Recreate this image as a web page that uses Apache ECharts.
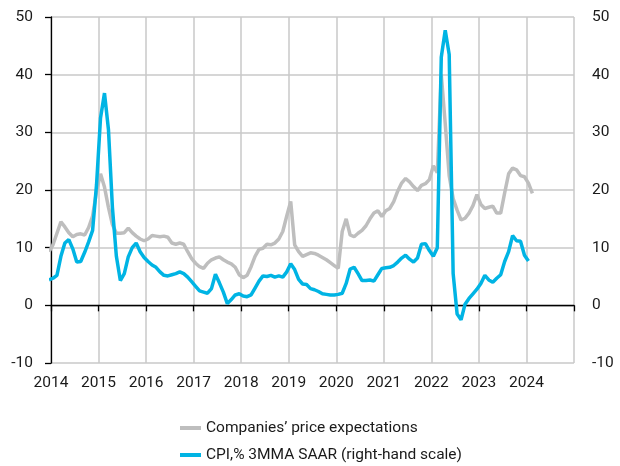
<!DOCTYPE html>
<html>
<head>
<meta charset="utf-8">
<script src="https://cdn.jsdelivr.net/npm/echarts@6/dist/echarts.min.js"></script>
<style>
html,body{margin:0;padding:0;background:#fff;}
#chart{width:620px;height:466px;}
</style>
</head>
<body>
<div id="chart"></div>
<script>
// Monthly data, first point = Dec 2013, plotted at mid-month
const startYear = 2013 + 11.5 / 12;

const yearLabels = ['2014','2015','2016','2017','2018','2019','2020','2021','2022','2023','2024'];
const yTicks = [-10, 0, 10, 20, 30, 40, 50];

const seriesNames = ['Companies’ price expectations', 'CPI,% 3MMA SAAR (right-hand scale)'];

// Companies' price expectations (left scale), Dec 2013 - Feb 2024
const priceExpectations = [
  9.3,
  10.5, 12.5, 14.5, 13.6, 12.6, 11.9, 12.3, 12.4, 12.2, 13.5, 15.5, 19.8,
  22.8, 20.5, 17.0, 14.0, 12.5, 12.5, 12.6, 13.4, 12.6, 12.0, 11.5, 11.2,
  11.5, 12.1, 12.0, 11.9, 12.0, 11.8, 10.8, 10.6, 10.8, 10.6, 9.3, 8.1,
  7.3, 6.7, 6.4, 7.3, 7.9, 8.2, 8.4, 7.9, 7.5, 7.2, 6.6, 5.3,
  4.8, 5.2, 6.7, 8.5, 9.7, 9.9, 10.6, 10.5, 10.8, 11.5, 12.8, 15.5,
  18.0, 10.5, 9.3, 8.5, 8.8, 9.1, 9.0, 8.7, 8.3, 7.9, 7.4, 6.9,
  6.4, 12.8, 15.0, 12.2, 11.9, 12.5, 13.0, 13.8, 15.0, 16.0, 16.4, 15.4,
  16.4, 16.8, 18.0, 19.8, 21.2, 22.0, 21.4, 20.6, 19.9, 20.8, 21.1, 21.8,
  24.2, 23.0, 40.0, 31.5, 22.5, 18.5, 16.5, 14.8, 15.1, 16.0, 17.3, 19.2,
  17.5, 16.8, 17.0, 17.2, 16.0, 16.0, 19.5, 22.8, 23.8, 23.5, 22.5, 22.3,
  21.2, 19.4
];

// CPI, % 3MMA SAAR (right-hand scale), Dec 2013 - Jan 2024
const cpiSaar = [
  4.4,
  4.7, 5.2, 8.5, 10.8, 11.4, 9.8, 7.5, 7.6, 9.2, 11.0, 13.0, 21.0,
  32.5, 36.8, 30.5, 17.0, 8.5, 4.3, 5.5, 8.4, 10.0, 10.8, 9.3, 8.3,
  7.6, 7.0, 6.6, 5.8, 5.2, 5.1, 5.3, 5.5, 5.8, 5.5, 4.9, 4.1,
  3.3, 2.5, 2.3, 2.1, 2.9, 5.4, 3.9, 2.3, 0.3, 1.0, 1.8, 2.0,
  1.6, 1.5, 1.8, 3.0, 4.2, 5.1, 5.0, 5.2, 4.9, 5.1, 4.9, 5.8,
  7.2, 6.2, 4.5, 3.7, 3.6, 2.9, 2.7, 2.4, 2.0, 1.9, 1.8, 1.8,
  1.9, 2.1, 3.8, 6.3, 6.6, 5.5, 4.3, 4.3, 4.4, 4.2, 5.3, 6.4,
  6.5, 6.6, 6.9, 7.5, 8.2, 8.7, 8.0, 7.5, 8.2, 10.6, 10.7, 9.5,
  8.5, 10.0, 43.0, 47.7, 43.5, 5.5, -1.5, -2.5, 0.2, 1.2, 2.0, 2.8,
  3.8, 5.2, 4.4, 4.0, 4.7, 5.3, 7.6, 9.3, 12.1, 11.2, 11.1, 8.7,
  7.7
];

const toPairs = arr => arr.map((v, k) => [startYear + k / 12, v]);

const FONT = 'Roboto';
const FS = 15.5;
const TXT = '#1a1a1a';
const GRID = '#c8c8c8';
const GREY = '#bebebe';
const BLUE = '#00b4e4';

const chart = echarts.init(document.getElementById('chart'), null, {renderer: 'canvas'});
const xBase = {
  type: 'value',
  min: Number(yearLabels[0]),
  max: Number(yearLabels[yearLabels.length - 1]) + 1,
  interval: 1
};
const yBase = {
  type: 'value',
  min: yTicks[0],
  max: yTicks[yTicks.length - 1],
  interval: yTicks[1] - yTicks[0]
};
const legendBase = {
  orient: 'horizontal',
  left: 180,
  icon: 'rect',
  itemWidth: 21,
  itemHeight: 4,
  padding: 0,
  textStyle: {fontFamily: FONT, fontSize: FS, color: TXT, lineHeight: 18}
};

chart.setOption({
  animation: false,
  backgroundColor: '#fff',
  grid: {left: 51, right: 46, top: 17, bottom: 103, containLabel: false},
  legend: [
    Object.assign({}, legendBase, {data: [seriesNames[0]], top: 419}),
    Object.assign({}, legendBase, {data: [seriesNames[1]], top: 446})
  ],
  xAxis: [
    Object.assign({}, xBase, {
      position: 'bottom',
      axisLine: {show: false, onZero: false},
      axisTick: {show: false},
      axisLabel: {
        margin: 12,
        fontFamily: FONT, fontSize: FS, color: TXT,
        formatter: v => {
          const i = Math.round(v - Number(yearLabels[0]));
          return yearLabels[i] !== undefined ? yearLabels[i] : '';
        }
      },
      splitLine: {show: true, lineStyle: {color: GRID, width: 1.5}}
    }),
    Object.assign({}, xBase, {
      position: 'bottom',
      axisLine: {show: true, onZero: true, onZeroAxisIndex: 0, lineStyle: {color: '#000', width: 1.3}},
      axisTick: {show: true, length: 6, lineStyle: {color: '#000', width: 1.3}},
      axisLabel: {show: false},
      splitLine: {show: false}
    })
  ],
  yAxis: [
    Object.assign({}, yBase, {
      position: 'left',
      axisLine: {show: true, onZero: false, lineStyle: {color: '#000', width: 1.3}},
      axisTick: {show: true, length: 6, lineStyle: {color: '#000', width: 1.3}},
      axisLabel: {margin: 18, fontFamily: FONT, fontSize: FS, color: TXT},
      splitLine: {show: true, lineStyle: {color: GRID, width: 1.5}}
    }),
    Object.assign({}, yBase, {
      position: 'right',
      axisLine: {show: false},
      axisTick: {show: false},
      axisLabel: {margin: 18, fontFamily: FONT, fontSize: FS, color: TXT},
      splitLine: {show: false}
    })
  ],
  series: [
    {
      name: seriesNames[0],
      type: 'line',
      xAxisIndex: 0,
      yAxisIndex: 0,
      data: toPairs(priceExpectations),
      showSymbol: false,
      symbol: 'none',
      clip: true,
      lineStyle: {color: GREY, width: 3.5},
      itemStyle: {color: GREY},
      z: 3
    },
    {
      name: seriesNames[1],
      type: 'line',
      xAxisIndex: 0,
      yAxisIndex: 1,
      data: toPairs(cpiSaar),
      showSymbol: false,
      symbol: 'none',
      clip: true,
      lineStyle: {color: BLUE, width: 3.5},
      itemStyle: {color: BLUE},
      z: 4
    }
  ]
});
</script>
</body>
</html>
